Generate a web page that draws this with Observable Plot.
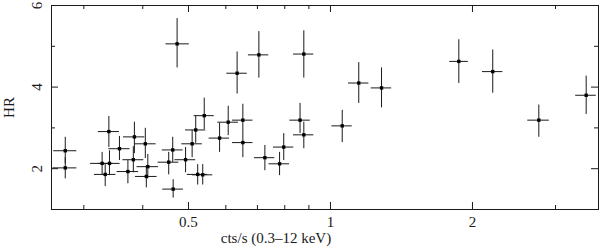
<!DOCTYPE html>
<html>
<head>
<meta charset="utf-8">
<script src="https://cdn.jsdelivr.net/npm/d3@7"></script>
<script src="https://cdn.jsdelivr.net/npm/@observablehq/plot@0.6"></script>
<style>
  html, body { margin: 0; padding: 0; background: #fff; }
  #chart svg { display: block; }
</style>
</head>
<body>
<div id="chart"></div>
<script>
// count rate (cts/s, 0.3–12 keV) with horizontal error extents
const rate    = [0.274,0.274,0.339,0.328,0.340,0.333,0.357,0.384,0.405,0.382,0.372,0.410,0.407,0.463,0.454,0.493,0.509,0.518,0.540,0.523,0.536,0.464,0.582,0.607,0.652,0.652,0.726,0.796,0.780,0.862,0.878,1.059,0.473,0.634,0.705,0.878,1.148,1.283,1.871,2.208,2.765,3.484];
const rateLo  = [0.259,0.258,0.322,0.310,0.322,0.316,0.339,0.364,0.385,0.363,0.353,0.389,0.386,0.440,0.431,0.468,0.484,0.493,0.514,0.497,0.510,0.441,0.553,0.577,0.620,0.620,0.690,0.757,0.741,0.820,0.835,1.007,0.448,0.603,0.670,0.835,1.092,1.220,1.790,2.100,2.620,3.310];
const rateHi  = [0.290,0.290,0.357,0.346,0.358,0.351,0.376,0.404,0.427,0.402,0.392,0.432,0.429,0.487,0.477,0.518,0.535,0.544,0.567,0.549,0.563,0.488,0.611,0.638,0.685,0.685,0.762,0.836,0.819,0.906,0.922,1.112,0.502,0.666,0.740,0.922,1.206,1.348,1.960,2.320,2.910,3.660];
// hardness ratio with vertical error extents
const hr      = [2.44,2.02,2.91,2.13,2.13,1.86,2.49,2.78,2.61,2.22,1.93,2.05,1.81,2.46,2.16,2.22,2.61,2.95,3.30,1.86,1.85,1.50,2.75,3.14,3.19,2.64,2.27,2.53,2.12,3.19,2.83,3.05,5.06,4.34,4.79,4.81,4.10,3.98,4.63,4.38,3.19,3.80];
const hrLo    = [2.12,1.75,2.52,1.83,1.83,1.56,2.20,2.37,2.25,1.90,1.63,1.75,1.53,2.15,1.85,1.90,2.27,2.62,2.96,1.60,1.60,1.28,2.40,2.81,2.96,2.27,1.95,2.20,1.83,2.86,2.49,2.64,4.47,3.83,4.22,4.22,3.60,3.49,4.09,3.85,2.77,3.33];
const hrHi    = [2.77,2.27,3.28,2.40,2.44,2.12,2.79,3.14,2.99,2.54,2.20,2.35,2.07,2.77,2.40,2.52,2.94,3.28,3.73,2.10,2.10,1.73,3.11,3.53,3.58,2.96,2.57,2.86,2.40,3.60,3.14,3.43,5.68,4.86,5.36,5.38,4.60,4.47,5.16,4.91,3.56,4.27];

const xMajor = [0.5, 1, 2];
const xMinor = [0.3, 0.4, 0.6, 0.7, 0.8, 0.9, 3];
const yMajor = [2, 4, 6];
const yMinor = [1, 3, 5];
const xLabel = "cts/s (0.3–12 keV)";
const yLabel = "HR";

const data = rate.map((x, i) => ({x, xlo: rateLo[i], xhi: rateHi[i], y: hr[i], ylo: hrLo[i], yhi: hrHi[i]}));

const W = 600, H = 250, mL = 51, mR = 2, mT = 5, mB = 41;
const fw = W - mL - mR, fh = H - mT - mB;
const ink = "#1a1a1a";
const font = "'Liberation Serif', 'DejaVu Serif', serif";

const chart = Plot.plot({
  width: W, height: H,
  marginLeft: mL, marginRight: mR, marginTop: mT, marginBottom: mB,
  style: {fontFamily: font, fontSize: "15px", color: ink, background: "#fff"},
  x: {type: "log", domain: [0.2562, 3.70], axis: null},
  y: {domain: [1, 6], axis: null},
  marks: [
    // inward ticks on all four sides
    Plot.tickX(xMajor, {x: d => d, insetTop: fh - 7, stroke: ink}),
    Plot.tickX(xMajor, {x: d => d, insetBottom: fh - 7, stroke: ink}),
    Plot.tickX(xMinor, {x: d => d, insetTop: fh - 4, stroke: ink}),
    Plot.tickX(xMinor, {x: d => d, insetBottom: fh - 4, stroke: ink}),
    Plot.tickY(yMajor, {y: d => d, insetRight: fw - 7, stroke: ink}),
    Plot.tickY(yMajor, {y: d => d, insetLeft: fw - 7, stroke: ink}),
    Plot.tickY(yMinor, {y: d => d, insetRight: fw - 4, stroke: ink}),
    Plot.tickY(yMinor, {y: d => d, insetLeft: fw - 4, stroke: ink}),
    // error bars
    Plot.ruleY(data, {y: "y", x1: "xlo", x2: "xhi", stroke: ink, strokeWidth: 1}),
    Plot.ruleX(data, {x: "x", y1: "ylo", y2: "yhi", stroke: ink, strokeWidth: 1}),
    Plot.dot(data, {x: "x", y: "y", symbol: "square", r: 1.9, fill: "black", stroke: "none"}),
    Plot.frame({stroke: ink, strokeWidth: 1}),
    // tick labels
    Plot.text(xMajor, {x: d => d, frameAnchor: "bottom", dy: 13, lineAnchor: "middle", text: d => String(d), fill: ink, fontSize: 15}),
    Plot.text(yMajor, {y: d => d, frameAnchor: "left", dx: -14, rotate: -90, lineAnchor: "middle", textAnchor: "middle", text: d => String(d), fill: ink, fontSize: 15}),
    // axis titles
    Plot.text([xLabel], {frameAnchor: "bottom", dx: -49, dy: 29, lineAnchor: "middle", text: d => d, fill: ink, fontSize: 15}),
    Plot.text([yLabel], {frameAnchor: "left", dx: -42, rotate: -90, lineAnchor: "middle", textAnchor: "middle", text: d => d, fill: ink, fontSize: 15})
  ]
});
document.getElementById("chart").appendChild(chart);
</script>
</body>
</html>
